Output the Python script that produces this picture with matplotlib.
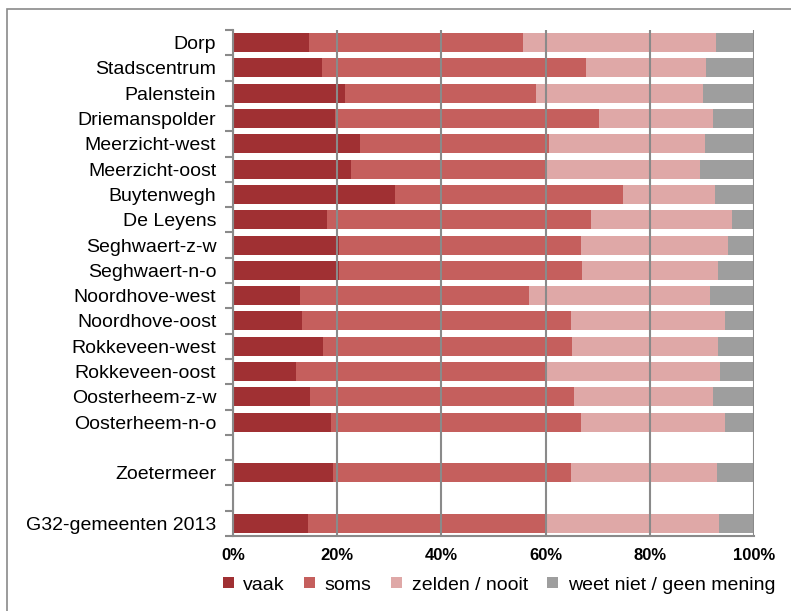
"""Stacked 100% bar chart: frequency per wijk in Zoetermeer."""
import matplotlib
matplotlib.use("Agg")
import matplotlib.pyplot as plt
from matplotlib.patches import Rectangle
from matplotlib.ticker import FixedLocator, PercentFormatter

plt.rcParams["font.family"] = ["Liberation Sans", "DejaVu Sans"]

categories = [
    "Dorp", "Stadscentrum", "Palenstein", "Driemanspolder", "Meerzicht-west",
    "Meerzicht-oost", "Buytenwegh", "De Leyens", "Seghwaert-z-w", "Seghwaert-n-o",
    "Noordhove-west", "Noordhove-oost", "Rokkeveen-west", "Rokkeveen-oost",
    "Oosterheem-z-w", "Oosterheem-n-o", "Zoetermeer", "G32-gemeenten 2013",
]
# row slot of each category (blank slots before Zoetermeer and G32)
slots = list(range(16)) + [17, 19]

vaak = [14.5, 17.0, 21.5, 19.6, 24.4, 22.7, 31.1, 18.0, 20.4, 20.4,
        12.9, 13.2, 17.2, 12.1, 14.8, 18.8, 19.2, 14.3]
soms = [41.1, 50.7, 36.6, 50.6, 36.2, 37.1, 43.8, 50.7, 46.3, 46.5,
        43.9, 51.6, 47.9, 48.0, 50.6, 47.9, 45.7, 46.0]
zelden = [37.1, 23.0, 32.2, 22.0, 29.9, 29.9, 17.6, 27.0, 28.3, 26.1,
          34.7, 29.7, 27.9, 33.3, 26.7, 27.8, 28.0, 32.9]
weet_niet = [100 - a - b - c for a, b, c in zip(vaak, soms, zelden)]

series = [
    ("vaak", vaak, "#a03033"),
    ("soms", soms, "#c55f5d"),
    ("zelden / nooit", zelden, "#dfa8a7"),
    ("weet niet / geen mening", weet_niet, "#9e9e9e"),
]

W, H = 791, 611
fig = plt.figure(figsize=(W / 100, H / 100), dpi=100)
fig.patches.append(Rectangle((7 / W, -0.1), 1.2, 1.1 - 9 / H, transform=fig.transFigure,
                             fill=False, edgecolor="#8a8a8a", lw=1.2))

ax = fig.add_axes([233 / W, 1 - 536 / H, 521 / W, 506 / H])

left = [0.0] * len(categories)
handles = []
for name, vals, color in series:
    bars = ax.barh(slots, vals, left=left, height=0.75, color=color,
                   edgecolor="none", label=name, zorder=2)
    handles.append(bars)
    left = [l + v for l, v in zip(left, vals)]

ax.set_xlim(0, 100)
ax.set_ylim(19.5, -0.5)
ax.xaxis.set_major_locator(FixedLocator([0, 20, 40, 60, 80, 100]))
ax.xaxis.set_major_formatter(PercentFormatter(decimals=0))
ax.grid(axis="x", color="#8a8a8a", lw=1.5, zorder=3)
ax.set_axisbelow(False)

ax.set_yticks(slots)
ax.set_yticklabels(categories, fontsize=14)
ax.tick_params(axis="y", which="major", length=0, pad=12)
ax.yaxis.set_minor_locator(FixedLocator([k + 0.5 for k in range(-1, 20)]))
ax.tick_params(axis="y", which="minor", length=6, color="#8a8a8a", width=1.5)
ax.tick_params(axis="x", length=0, labelsize=12, pad=9)
for lab in ax.get_xticklabels():
    lab.set_fontweight("bold")

for side in ("top", "right"):
    ax.spines[side].set_visible(False)
for side in ("left", "bottom"):
    ax.spines[side].set_color("#8a8a8a")
    ax.spines[side].set_linewidth(1.5)

fig.legend(handles=handles, loc="center", bbox_to_anchor=(499 / W, 1 - 585 / H),
           ncol=4, frameon=False, fontsize=14, handlelength=0.55, handleheight=0.55,
           handletextpad=0.5, columnspacing=1.0, borderaxespad=0, borderpad=0)

fig.savefig("out.png", dpi=100)
